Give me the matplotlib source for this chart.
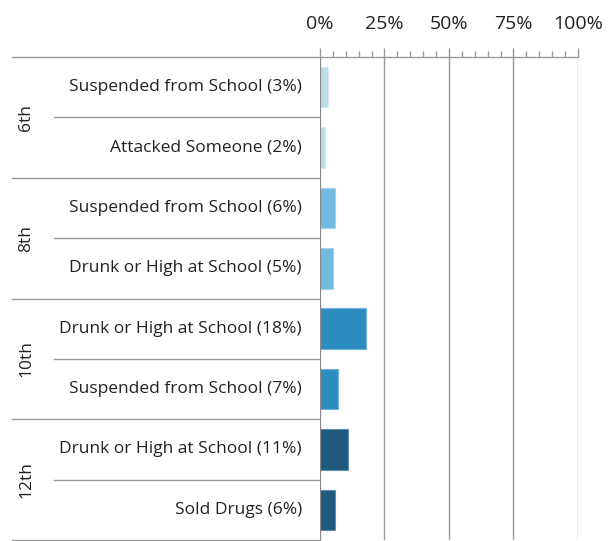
import numpy as np
import matplotlib.pyplot as plt
from matplotlib.ticker import MultipleLocator, FuncFormatter

plt.rcParams["font.family"] = ["Open Sans", "DejaVu Sans"]

# data
grades = ["6th", "8th", "10th", "12th"]
labels = ["Suspended from School", "Attacked Someone",
          "Suspended from School", "Drunk or High at School",
          "Drunk or High at School", "Suspended from School",
          "Drunk or High at School", "Sold Drugs"]
values = [3, 2, 6, 5, 18, 7, 11, 6]
grade_colors = ["#bedcea", "#74b9de", "#2e8dc0", "#1f5a7e"]
edge_colors = ["#d6e9f2", "#a3d0ea", "#6fb3da", "#5f8eab"]

W, H = 616, 541
fig = plt.figure(figsize=(W / 100, H / 100), dpi=100)

top, bottom = 57, 540
x0, x1 = 320, 578
ax = fig.add_axes([x0 / W, 1 - bottom / H, (x1 - x0) / W, (bottom - top) / H])
left = fig.add_axes([0, 1 - bottom / H, x0 / W, (bottom - top) / H])

n = len(values)
ypos = np.arange(n) + 0.5
cols = [grade_colors[i // 2] for i in range(n)]
ecols = [edge_colors[i // 2] for i in range(n)]
ax.barh(ypos, values, height=0.67, color=cols, edgecolor=ecols, linewidth=0.8, zorder=3)

ax.set_xlim(0, 100)
ax.set_ylim(n, 0)
ax.xaxis.set_ticks_position("top")
ax.xaxis.set_label_position("top")
ax.xaxis.set_major_locator(MultipleLocator(25))
ax.xaxis.set_minor_locator(MultipleLocator(5))
ax.xaxis.set_major_formatter(FuncFormatter(lambda v, p: f"{v:.0f}%"))
ax.tick_params(axis="x", which="major", length=6.5, width=1, color="#999999",
               labelsize=14, pad=11, labelcolor="#222222")
ax.tick_params(axis="x", which="minor", length=4.3, width=1, color="#999999")
ax.set_yticks([])
for s in ["bottom", "right", "left"]:
    ax.spines[s].set_visible(False)
ax.spines["top"].set_color("#999999")
ax.spines["top"].set_linewidth(1)
for v in [25, 50, 75, 100]:
    ax.axvline(v, color="#999999", lw=1, zorder=1)
ax.axvline(0, color="#888888", lw=1.6, zorder=4)

# left label table
left.set_xlim(0, x0)
left.set_ylim(n, 0)
left.axis("off")
for g in range(len(grades) + 1):
    left.plot([12, x0], [2 * g, 2 * g], color="#999999", lw=1, clip_on=False)
for g in range(len(grades)):
    left.plot([54, x0], [2 * g + 1, 2 * g + 1], color="#999999", lw=1, clip_on=False)
    left.text(26, 2 * g + 1, grades[g], rotation=90, ha="center", va="center",
              fontsize=12.5, color="#222222")
for i in range(n):
    left.text(302, ypos[i], f"{labels[i]} ({values[i]}%)", ha="right", va="center",
              fontsize=12.5, color="#222222")

fig.savefig("out.png", dpi=100)
